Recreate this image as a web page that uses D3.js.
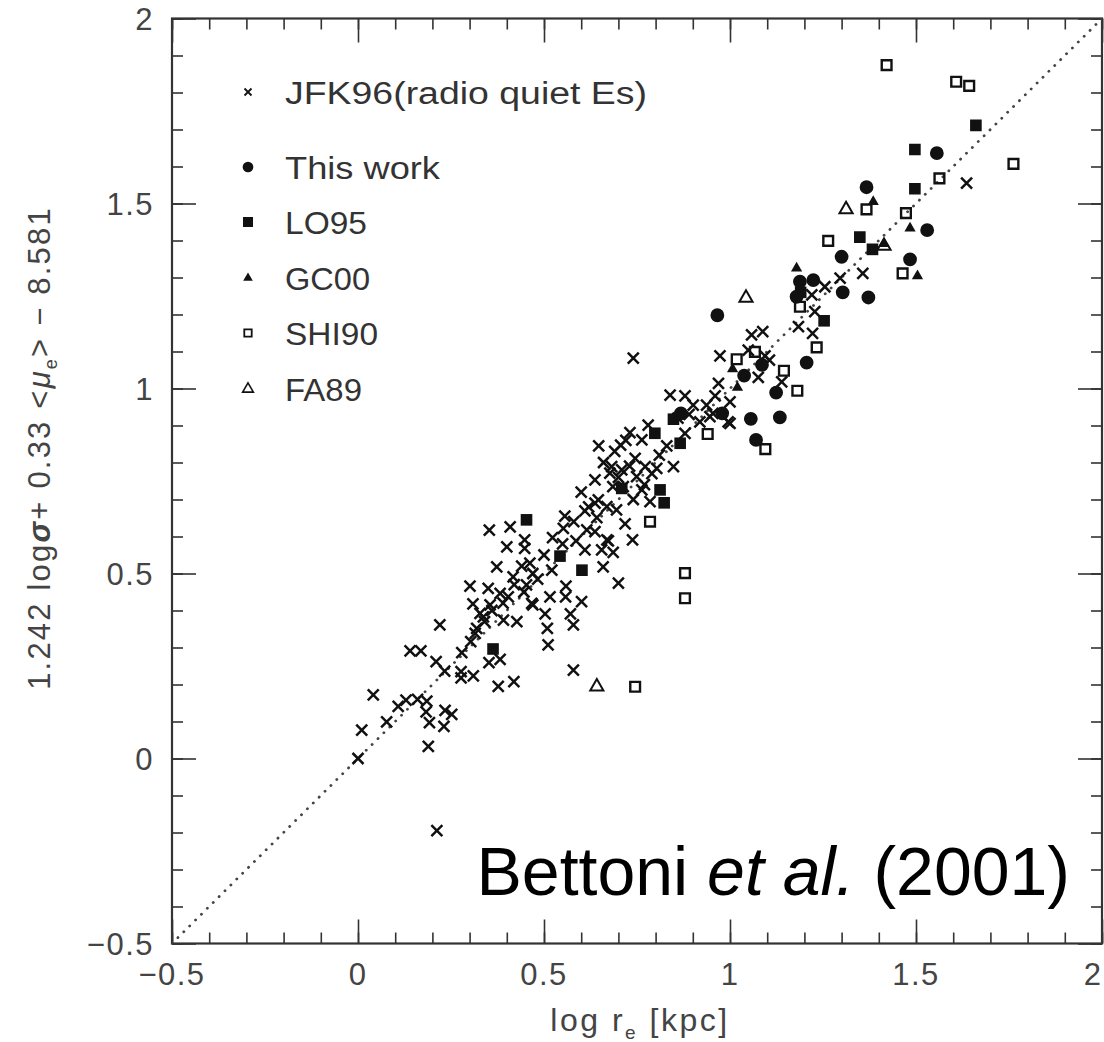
<!DOCTYPE html>
<html><head><meta charset="utf-8">
<script src="https://cdn.jsdelivr.net/npm/d3@7"></script>
<style>
html,body{margin:0;padding:0;background:#fff;}
svg{display:block;}
</style></head>
<body>
<svg id="chart" width="1104" height="1042"></svg>
<script>
// ---------------- DATA ----------------
const xTicks = [-0.5, 0, 0.5, 1, 1.5, 2];
const yTicks = [-0.5, 0, 0.5, 1, 1.5, 2];
const legendLabels = ["JFK96(radio quiet Es)", "This work", "LO95", "GC00", "SHI90", "FA89"];

// JFK96 (radio quiet Es) — crosses [log re, y]
const jfk96 = [
[0.00,0.00],[0.010,0.077],[0.041,0.172],[0.077,0.099],[0.108,0.141],[0.129,0.158],[0.160,0.160],
[0.185,0.155],[0.183,0.126],[0.192,0.097],[0.189,0.033],[0.231,0.087],[0.234,0.130],[0.252,0.119],
[0.212,-0.195],[0.140,0.291],[0.169,0.291],[0.210,0.262],[0.233,0.236],[0.220,0.361],[0.279,0.286],
[0.277,0.235],[0.277,0.218],[0.310,0.223],[0.352,0.259],[0.382,0.268],[0.377,0.195],[0.419,0.208],
[0.303,0.316],[0.319,0.352],[0.328,0.392],[0.309,0.418],[0.355,0.415],[0.427,0.370],[0.470,0.415],
[0.301,0.466],[0.350,0.460],[0.315,0.338],[0.337,0.383],[0.373,0.518],[0.404,0.437],[0.400,0.572],
[0.409,0.626],[0.353,0.617],[0.448,0.591],[0.448,0.568],[0.391,0.374],[0.417,0.491],[0.462,0.528],
[0.483,0.485],[0.446,0.450],[0.453,0.469],[0.467,0.419],[0.516,0.437],[0.503,0.391],[0.509,0.352],
[0.511,0.307],[0.556,0.655],[0.552,0.622],[0.523,0.597],[0.521,0.509],[0.559,0.466],[0.558,0.437],
[0.571,0.391],[0.579,0.361],[0.579,0.239],[0.601,0.424],[0.610,0.669],[0.615,0.618],[0.586,0.588],
[0.610,0.564],[0.637,0.753],[0.642,0.651],[0.637,0.690],[0.655,0.564],[0.659,0.518],[0.673,0.588],
[0.686,0.557],[0.700,0.474],[0.682,0.789],[0.695,0.672],[0.718,0.634],[0.738,0.591],[0.713,0.735],
[0.677,0.771],[0.749,0.762],[0.637,0.613],[0.382,0.446],[0.647,0.845],[0.839,0.982],[0.879,0.980],
[0.901,0.955],[0.937,0.955],[1.000,0.964],[0.969,1.014],[0.780,0.901],[0.731,0.881],[0.763,0.861],
[0.706,0.847],[0.709,0.780],[0.745,0.811],[0.772,0.789],[0.803,0.784],[0.848,0.789],[0.830,0.845],
[0.879,0.879],[0.919,0.910],[0.954,0.933],[0.995,0.910],[0.685,0.735],[0.763,0.726],[0.785,0.694],
[0.646,0.699],[0.669,0.681],[0.669,0.591],[0.973,1.088],[1.058,1.145],[1.088,1.154],[1.049,1.104],
[1.094,1.088],[1.106,1.077],[1.076,1.030],[0.946,0.924],[1.000,0.906],[1.139,1.018],[1.184,1.167],
[1.222,1.149],[1.220,1.253],[1.228,1.208],[1.636,1.555],[1.296,1.298],[1.255,1.275],[1.357,1.311],
[0.740,1.082],[0.66,0.80],[0.69,0.83],[0.72,0.86],[0.74,0.70],[0.77,0.74],[0.79,0.77],[0.60,0.72],
[0.58,0.64],[0.55,0.58],[0.50,0.55],[0.47,0.50],[0.44,0.52],[0.42,0.47],[0.39,0.42],[0.36,0.40],
[0.34,0.37],[0.62,0.68],[0.70,0.76],[0.73,0.79],[0.81,0.82],[0.86,0.92],[0.89,0.93],[0.96,0.98]
];

// This work — filled circles
const thisWork = [
[1.367,1.544],[1.556,1.636],[1.530,1.428],[1.484,1.349],[1.300,1.356],[1.188,1.289],[1.224,1.293],
[1.303,1.260],[1.372,1.246],[1.179,1.248],[0.966,1.198],[1.206,1.070],[1.038,1.035],[1.086,1.064],
[1.124,0.989],[0.979,0.933],[1.056,0.918],[1.134,0.922],[1.070,0.861],[0.868,0.933]
];

// LO95 — filled squares
const lo95 = [
[1.661,1.711],[1.497,1.646],[1.497,1.540],[1.349,1.409],[1.383,1.376],[1.253,1.183],[1.19,1.26],
[0.848,0.917],[0.798,0.879],[0.866,0.852],[0.812,0.726],[0.823,0.691],[0.602,0.509],[0.453,0.645],
[0.363,0.296],[0.543,0.547],[0.709,0.730]
];

// GC00 — filled triangles
const gc00 = [
[1.385,1.505],[1.484,1.433],[1.179,1.325],[1.504,1.304],[1.414,1.391],[1.007,1.053],[1.020,1.003]
];

// SHI90 — open squares
const shi90 = [
[1.421,1.874],[1.608,1.829],[1.643,1.818],[1.762,1.607],[1.563,1.568],[1.367,1.484],[1.473,1.474],
[1.264,1.399],[1.464,1.311],[1.188,1.221],[1.233,1.111],[1.018,1.079],[1.067,1.099],[1.145,1.048],
[1.181,0.994],[0.940,0.877],[1.095,0.836],[0.879,0.501],[0.879,0.433],[0.745,0.194],[0.785,0.640]
];

// FA89 — open triangles
const fa89 = [
[1.312,1.484],[1.043,1.245],[1.414,1.385],[0.642,0.194]
];

// ---------------- LAYOUT ----------------
const svg = d3.select("#chart");
const X0 = 172, X1 = 1102, Y0 = 943.5, Y1 = 18.5;
const x = d3.scaleLinear().domain([-0.5, 2]).range([X0, X1]);
const y = d3.scaleLinear().domain([-0.5, 2]).range([Y0, Y1]);
const ink = "#111";
const axisInk = "#333";
const labelFont = "'Liberation Sans', Arial, sans-serif";

const minorTicks = d3.range(-5, 21).map(i => i / 10);
const fmt = d => d < 0 ? "\u2212" + Math.abs(d) : String(d);

// ticks on all 4 sides, pointing inward
function tickAxis(axisFn, values, size, transform) {
  const g = svg.append("g").attr("transform", transform)
    .call(axisFn.tickValues(values).tickSize(size).tickFormat(""));
  g.select(".domain").remove();
  g.selectAll(".tick line").attr("stroke", axisInk).attr("stroke-width", 1.6);
  return g;
}
tickAxis(d3.axisBottom(x), minorTicks, -11, `translate(0,${Y0})`);
tickAxis(d3.axisBottom(x), xTicks, -24, `translate(0,${Y0})`);
tickAxis(d3.axisTop(x), minorTicks, -11, `translate(0,${Y1})`);
tickAxis(d3.axisTop(x), xTicks, -24, `translate(0,${Y1})`);
tickAxis(d3.axisLeft(y), minorTicks, -11, `translate(${X0},0)`);
tickAxis(d3.axisLeft(y), yTicks, -24, `translate(${X0},0)`);
tickAxis(d3.axisRight(y), minorTicks, -11, `translate(${X1},0)`);
tickAxis(d3.axisRight(y), yTicks, -24, `translate(${X1},0)`);

// frame
svg.append("rect").attr("x", X0).attr("y", Y1).attr("width", X1 - X0).attr("height", Y0 - Y1)
  .attr("fill", "none").attr("stroke", axisInk).attr("stroke-width", 2.2);

// tick labels
const tickLabelStyle = s => s.attr("font-family", labelFont).attr("font-size", 31)
  .attr("fill", "#444").attr("letter-spacing", 1.5);
svg.append("g").selectAll("text").data(xTicks).join("text")
  .attr("x", d => Math.min(x(d), 1093)).attr("y", 985).attr("text-anchor", "middle")
  .call(tickLabelStyle).text(fmt);
svg.append("g").selectAll("text").data(yTicks).join("text")
  .attr("x", 154).attr("y", d => y(d) + 11).attr("text-anchor", "end")
  .call(tickLabelStyle).text(fmt);

// axis titles
const xt = svg.append("text").attr("x", 640).attr("y", 1031).attr("text-anchor", "middle")
  .attr("font-family", labelFont).attr("font-size", 32).attr("fill", "#444").attr("letter-spacing", 2.5);
xt.append("tspan").text("log r");
xt.append("tspan").attr("font-size", 19).attr("dy", 8).text("e");
xt.append("tspan").attr("dy", -8).text(" [kpc]");

const yt = svg.append("text").attr("transform", "translate(50,448) rotate(-90)")
  .attr("text-anchor", "middle").attr("font-family", labelFont).attr("font-size", 31)
  .attr("fill", "#444").attr("letter-spacing", 2.2);
yt.append("tspan").text("1.242 log");
yt.append("tspan").attr("font-style", "italic").attr("font-weight", "bold").text("σ");
yt.append("tspan").text("+ 0.33 <");
yt.append("tspan").attr("font-style", "italic").text("μ");
yt.append("tspan").attr("font-size", 18).attr("dy", 7).text("e");
yt.append("tspan").attr("dy", -7).text(">  \u2212  8.581");

// dotted 1:1 line
const clipId = "plotclip";
svg.append("clipPath").attr("id", clipId).append("rect")
  .attr("x", X0).attr("y", Y1).attr("width", X1 - X0).attr("height", Y0 - Y1);
svg.append("line").attr("clip-path", `url(#${clipId})`)
  .attr("x1", x(-0.5)).attr("y1", y(-0.5)).attr("x2", x(2)).attr("y2", y(2))
  .attr("stroke", "#444").attr("stroke-width", 2.8).attr("stroke-linecap", "round")
  .attr("stroke-dasharray", "0.1,8.2");

// symbol helpers
const crossPath = h => `M${-h},${-h}L${h},${h}M${-h},${h}L${h},${-h}`;
const sym = (type, size) => d3.symbol().type(type).size(size)();

function drawSeries(data, shape) {
  const g = svg.append("g").attr("clip-path", `url(#${clipId})`);
  const sel = g.selectAll("path").data(data).join("path")
    .attr("transform", d => `translate(${x(d[0])},${y(d[1])})`);
  if (shape === "cross") {
    sel.attr("d", crossPath(5.5)).attr("fill", "none").attr("stroke", ink).attr("stroke-width", 2.5);
  } else if (shape === "circle") {
    sel.attr("d", sym(d3.symbolCircle, 150)).attr("fill", ink);
  } else if (shape === "square") {
    sel.attr("d", sym(d3.symbolSquare, 135)).attr("fill", ink);
  } else if (shape === "triangle") {
    sel.attr("d", sym(d3.symbolTriangle, 55)).attr("fill", ink);
  } else if (shape === "osquare") {
    sel.attr("d", sym(d3.symbolSquare, 95)).attr("fill", "none").attr("stroke", ink).attr("stroke-width", 2.4);
  } else if (shape === "otriangle") {
    sel.attr("d", sym(d3.symbolTriangle, 75)).attr("fill", "none").attr("stroke", ink).attr("stroke-width", 2);
  }
}
drawSeries(jfk96, "cross");
drawSeries(shi90, "osquare");
drawSeries(fa89, "otriangle");
drawSeries(lo95, "square");
drawSeries(gc00, "triangle");
drawSeries(thisWork, "circle");

// legend
const legendShapes = ["cross", "circle", "square", "triangle", "osquare", "otriangle"];
const legendY = [92, 167, 222, 278, 333, 389];
const legendW = [362, 155, 82, 85, 93, 77];
const lg = svg.append("g");
legendLabels.forEach((lab, i) => {
  const cy = legendY[i];
  const p = lg.append("path").attr("transform", `translate(248,${cy})`);
  const s = legendShapes[i];
  if (s === "cross") p.attr("d", crossPath(3.5)).attr("stroke", ink).attr("stroke-width", 1.8).attr("fill", "none");
  if (s === "circle") p.attr("d", sym(d3.symbolCircle, 90)).attr("fill", ink);
  if (s === "square") p.attr("d", sym(d3.symbolSquare, 100)).attr("fill", ink);
  if (s === "triangle") p.attr("d", sym(d3.symbolTriangle, 40)).attr("fill", ink);
  if (s === "osquare") p.attr("d", sym(d3.symbolSquare, 55)).attr("fill", "none").attr("stroke", ink).attr("stroke-width", 1.8);
  if (s === "otriangle") p.attr("d", sym(d3.symbolTriangle, 50)).attr("fill", "none").attr("stroke", ink).attr("stroke-width", 1.6);
  lg.append("text").attr("x", 285).attr("y", cy + 12)
    .attr("font-family", labelFont).attr("font-size", 31).attr("fill", "#333")
    .attr("textLength", legendW[i]).attr("lengthAdjust", "spacingAndGlyphs")
    .text(lab);
});

// citation
const cit = svg.append("text").attr("x", 1070).attr("y", 895).attr("text-anchor", "end")
  .attr("font-family", labelFont).attr("font-size", 68).attr("fill", "#000");
cit.append("tspan").text("Bettoni ");
cit.append("tspan").attr("font-style", "italic").text("et al.");
cit.append("tspan").text(" (2001)");
</script>
</body></html>
